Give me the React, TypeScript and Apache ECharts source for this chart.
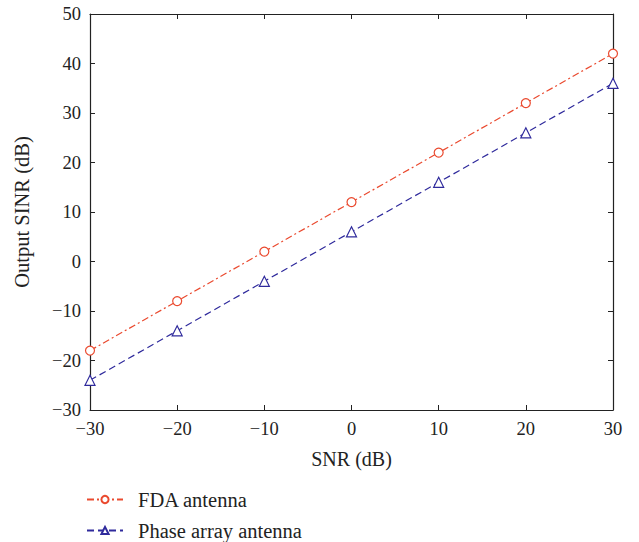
import React, { useEffect, useRef } from "react";
import * as echarts from "echarts";

const snr = [-30, -20, -10, 0, 10, 20, 30];
const fda = [-18, -8, 2, 12, 22, 32, 42];
const phase = [-24, -14, -4, 6, 16, 26, 36];
const seriesNames = ["FDA antenna", "Phase array antenna"];

const FONT = "Liberation Serif";
const RED = "#EA4A2F";
const BLUE = "#2F2A9C";
const TXT = "#222";

const fmt = (v: number) => (v < 0 ? "\u2212" + Math.abs(v) : String(v));

export default function App() {
  const ref = useRef<HTMLDivElement>(null);
  useEffect(() => {
    document.body.style.margin = "0";
    document.body.style.overflow = "hidden";
    const chart = echarts.init(ref.current!, null, { renderer: "svg" });
    const axisCommon = {
      axisLine: { show: true, onZero: false, lineStyle: { color: TXT, width: 1.2 } },
      axisTick: { show: true, inside: true, length: 5, lineStyle: { color: TXT } },
      splitLine: { show: false },
    };
    const legendCommon = {
      orient: "vertical",
      left: 86,
      padding: 0,
      itemWidth: 36,
      itemHeight: 9,
      textStyle: { fontFamily: FONT, fontSize: 20.5, color: TXT, padding: [0, 0, 0, 10] },
    };
    chart.setOption({
      animation: false,
      backgroundColor: "#fff",
      textStyle: { fontFamily: FONT },
      grid: { left: 90, right: 26, top: 14, bottom: 132 },
      xAxis: [
        {
          type: "value",
          min: -30,
          max: 30,
          interval: 10,
          position: "bottom",
          name: "SNR (dB)",
          nameLocation: "middle",
          nameGap: 39,
          nameTextStyle: { fontFamily: FONT, fontSize: 20, color: TXT },
          axisLabel: { fontFamily: FONT, fontSize: 18.5, color: TXT, margin: 9, formatter: fmt },
          ...axisCommon,
        },
        {
          type: "value",
          min: -30,
          max: 30,
          interval: 10,
          position: "top",
          axisLabel: { show: false },
          ...axisCommon,
        },
      ],
      yAxis: [
        {
          type: "value",
          min: -30,
          max: 50,
          interval: 10,
          position: "left",
          name: "Output SINR (dB)",
          nameLocation: "middle",
          nameGap: 58,
          nameTextStyle: { fontFamily: FONT, fontSize: 20.5, color: TXT },
          axisLabel: { fontFamily: FONT, fontSize: 18.5, color: TXT, margin: 9, formatter: fmt },
          ...axisCommon,
        },
        {
          type: "value",
          min: -30,
          max: 50,
          interval: 10,
          position: "right",
          axisLabel: { show: false },
          ...axisCommon,
        },
      ],
      legend: [
        { ...legendCommon, top: 489, data: [seriesNames[0]] },
        { ...legendCommon, top: 520, data: [seriesNames[1]] },
      ],
      series: [
        {
          name: seriesNames[0],
          type: "line",
          data: snr.map((x, i) => [x, fda[i]]),
          symbol: "circle",
          symbolSize: 9,
          lineStyle: { color: RED, width: 1.2, type: [7, 3, 2, 3] },
          itemStyle: { color: "#fff", borderColor: RED, borderWidth: 1.2 },
          color: RED,
        },
        {
          name: seriesNames[1],
          type: "line",
          data: snr.map((x, i) => [x, phase[i]]),
          symbol: "triangle",
          symbolSize: 10,
          lineStyle: { color: BLUE, width: 1.2, type: [7, 4] },
          itemStyle: { color: "#fff", borderColor: BLUE, borderWidth: 1.2 },
          color: BLUE,
        },
      ],
    });
    return () => chart.dispose();
  }, []);
  return <div ref={ref} style={{ position: "absolute", left: 0, top: 0, width: 639, height: 542 }} />;
}
